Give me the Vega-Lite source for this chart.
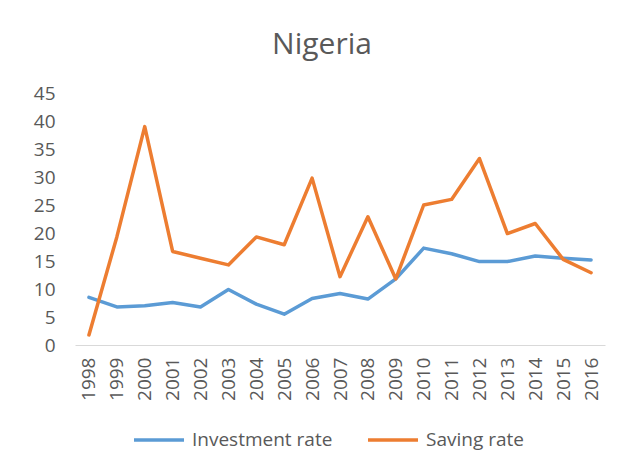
{
  "$schema": "https://vega.github.io/schema/vega-lite/v6.json",
  "width": 530,
  "height": 252,
  "autosize": "none",
  "padding": {"left": 75, "top": 93, "right": 31, "bottom": 127},
  "background": "white",
  "title": {
    "text": "Nigeria",
    "fontSize": 30,
    "font": "Open Sans",
    "fontWeight": "normal",
    "color": "#595959",
    "anchor": "middle",
    "dx": -18,
    "offset": 24
  },
  "data": {
    "values": [
      {"year": "1998", "series": "Investment rate", "value": 8.5},
      {"year": "1999", "series": "Investment rate", "value": 6.8},
      {"year": "2000", "series": "Investment rate", "value": 7.0},
      {"year": "2001", "series": "Investment rate", "value": 7.6},
      {"year": "2002", "series": "Investment rate", "value": 6.8},
      {"year": "2003", "series": "Investment rate", "value": 9.9},
      {"year": "2004", "series": "Investment rate", "value": 7.3},
      {"year": "2005", "series": "Investment rate", "value": 5.5},
      {"year": "2006", "series": "Investment rate", "value": 8.3},
      {"year": "2007", "series": "Investment rate", "value": 9.2},
      {"year": "2008", "series": "Investment rate", "value": 8.2},
      {"year": "2009", "series": "Investment rate", "value": 11.8},
      {"year": "2010", "series": "Investment rate", "value": 17.3},
      {"year": "2011", "series": "Investment rate", "value": 16.3},
      {"year": "2012", "series": "Investment rate", "value": 14.9},
      {"year": "2013", "series": "Investment rate", "value": 14.9},
      {"year": "2014", "series": "Investment rate", "value": 15.9},
      {"year": "2015", "series": "Investment rate", "value": 15.5},
      {"year": "2016", "series": "Investment rate", "value": 15.2},
      {"year": "1998", "series": "Saving rate", "value": 1.8},
      {"year": "1999", "series": "Saving rate", "value": 19.3},
      {"year": "2000", "series": "Saving rate", "value": 39.0},
      {"year": "2001", "series": "Saving rate", "value": 16.7},
      {"year": "2002", "series": "Saving rate", "value": 15.5},
      {"year": "2003", "series": "Saving rate", "value": 14.3},
      {"year": "2004", "series": "Saving rate", "value": 19.3},
      {"year": "2005", "series": "Saving rate", "value": 17.9},
      {"year": "2006", "series": "Saving rate", "value": 29.8},
      {"year": "2007", "series": "Saving rate", "value": 12.2},
      {"year": "2008", "series": "Saving rate", "value": 22.9},
      {"year": "2009", "series": "Saving rate", "value": 11.8},
      {"year": "2010", "series": "Saving rate", "value": 25.0},
      {"year": "2011", "series": "Saving rate", "value": 26.0},
      {"year": "2012", "series": "Saving rate", "value": 33.3},
      {"year": "2013", "series": "Saving rate", "value": 19.9},
      {"year": "2014", "series": "Saving rate", "value": 21.7},
      {"year": "2015", "series": "Saving rate", "value": 15.3},
      {"year": "2016", "series": "Saving rate", "value": 12.9}
    ]
  },
  "mark": {"type": "line", "strokeWidth": 3.5, "strokeCap": "round", "strokeJoin": "round"},
  "encoding": {
    "x": {
      "field": "year",
      "type": "ordinal",
      "scale": {"type": "point", "padding": 0.5},
      "axis": {
        "title": null,
        "labelAngle": -90,
        "labelFontSize": 19,
        "labelFont": "Open Sans",
        "labelColor": "#595959",
        "labelPadding": 12,
        "ticks": false,
        "domainColor": "#D9D9D9",
        "domainWidth": 1.2,
        "grid": false
      }
    },
    "y": {
      "field": "value",
      "type": "quantitative",
      "scale": {"domain": [0, 45], "nice": false},
      "axis": {
        "title": null,
        "values": [0, 5, 10, 15, 20, 25, 30, 35, 40, 45],
        "labelFontSize": 19,
        "labelFont": "Open Sans",
        "labelColor": "#595959",
        "labelPadding": 20,
        "ticks": false,
        "domain": false,
        "grid": false
      }
    },
    "color": {
      "field": "series",
      "type": "nominal",
      "scale": {"domain": ["Investment rate", "Saving rate"], "range": ["#5B9BD5", "#ED7D31"]},
      "legend": {
        "title": null,
        "orient": "none",
        "direction": "horizontal",
        "legendX": 57,
        "legendY": 320,
        "symbolType": "stroke",
        "symbolSize": 2500,
        "symbolStrokeWidth": 3.5,
        "labelFontSize": 19,
        "labelFont": "Open Sans",
        "labelColor": "#595959",
        "labelOffset": 6,
        "columnPadding": 28
      }
    }
  },
  "config": {"view": {"stroke": null}}
}
